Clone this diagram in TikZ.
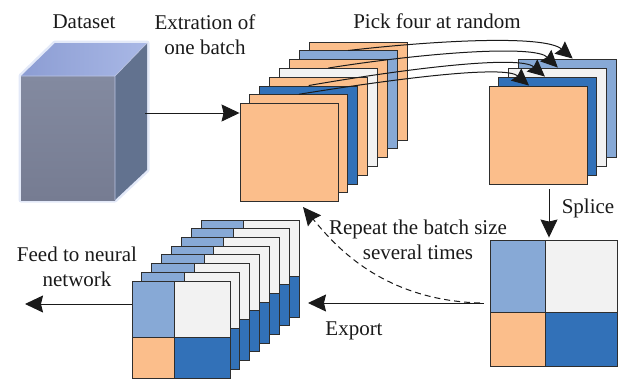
\documentclass[tikz,border=0pt]{standalone}
\usepackage{fontspec}
\setmainfont{Liberation Serif}
\usetikzlibrary{arrows.meta,calc}
\definecolor{cOr}{HTML}{FBBE8B}
\definecolor{cLB}{HTML}{87A9D6}
\definecolor{cDB}{HTML}{3271B8}
\definecolor{cWh}{HTML}{F2F2F2}
\definecolor{cEdge}{HTML}{2E2E2E}
\definecolor{cLine}{HTML}{1A1A1A}
\definecolor{cubeFrontTop}{HTML}{838AA0}
\definecolor{cubeFrontBot}{HTML}{767C92}
\definecolor{cubeTopA}{HTML}{8C9DD3}
\definecolor{cubeTopB}{HTML}{A9B8E6}
\definecolor{cubeSide}{HTML}{62728F}
\definecolor{cubeEdge}{HTML}{BCC5E4}
\definecolor{cubeGlow}{HTML}{C7D3F2}
\begin{document}
\begin{tikzpicture}[x=1pt,y=-1pt,
  font=\fontsize{21}{25}\selectfont,
  sq/.style={draw=cEdge, line width=0.9pt, inner sep=0pt,
    minimum width=98pt, minimum height=98pt},
  quad/.style={draw=cEdge, line width=0.9pt, inner sep=0pt,
    minimum width=98pt, minimum height=97pt,
    path picture={
      \path (path picture bounding box.north west) coordinate (pNW)
            (path picture bounding box.south east) coordinate (pSE);
      \coordinate (pX) at ($(pNW)!0.433!(pSE)$);
      \coordinate (pY) at ($(pNW)!0.577!(pSE)$);
      \fill[cLB] (pNW) rectangle (pX |- pY);
      \fill[cWh] (pX |- pNW) rectangle (pSE |- pY);
      \fill[cOr] (pNW |- pY) rectangle (pX |- pSE);
      \fill[cDB] (pX |- pY) rectangle (pSE);
      \draw[cEdge, line width=0.9pt] (pX |- pNW) -- (pX |- pSE)
                                      (pNW |- pY) -- (pSE |- pY);
    }},
  arr/.style={draw=cLine, line width=1pt,
    -{Stealth[length=18pt,width=17pt,inset=2pt]}},
  arrc/.style={draw=cLine, line width=1pt,
    -{Stealth[length=17pt,width=16pt,inset=2pt]}},
  lbl/.style={inner sep=0pt, align=center, text=cLine}]

\useasboundingbox (0,0) rectangle (625,380);

% ---------- dataset cube ----------
\draw[cubeGlow, line width=5pt, line join=round, opacity=0.5]
  (21,76) -- (55,43) -- (147,43) -- (147,170) -- (115,200) -- (21,200) -- cycle;
\shade[top color=cubeFrontTop, bottom color=cubeFrontBot] (21,76) rectangle (115,200);
\shade[left color=cubeTopA, right color=cubeTopB]
  (21,76) -- (55,43) -- (147,43) -- (115,76) -- cycle;
\fill[cubeSide] (115,76) -- (147,43) -- (147,170) -- (115,200) -- cycle;
\draw[cubeEdge, line width=0.7pt, line join=round]
  (21,76) -- (115,76) -- (115,200) (115,76) -- (147,43);
\coordinate (cubeR) at (145,113);

% ---------- batch stack ----------
\foreach \k/\c in {7/cOr,6/cLB,5/cOr,4/cWh,3/cOr,2/cDB,1/cOr,0/cOr}
  \node[sq, fill=\c] (a\k) at ({289+9.86*\k},{152.5-8.76*\k}) {};

% ---------- four picked ----------
\foreach \k/\c in {3/cLB,2/cWh,1/cDB,0/cOr}
  \node[sq, fill=\c] (r\k) at ({538+9.9*\k},{135-9*\k}) {};

% ---------- spliced image ----------
\node[quad, minimum width=127pt, minimum height=126pt] (sp) at (553.5,303) {};

% ---------- repeated batch ----------
\foreach \k in {7,6,...,0}
  \node[quad] (b\k) at ({181+9.86*\k},{329.5-8.7*\k}) {};

% ---------- connectors ----------
\draw[arr] (cubeR) -- (cubeR -| a0.west);

\draw[arrc] (a6.north) .. controls (440,40) and (545,35) .. ([xshift=5pt]r3.north);
\draw[arrc] (a4.north) .. controls (430,52) and (535,45) .. (r2.north);
\draw[arrc] (a2.north) .. controls (410,68) and (520,55) .. ([xshift=-3pt]r1.north);
\draw[arrc] (a1.north) .. controls (400,78) and (505,65) .. ([xshift=-9pt]r0.north);

\coordinate (spS) at (549,189);
\draw[arr] (spS) -- ([yshift=2pt]spS |- sp.north);

\coordinate (expEnd) at (308,303);
\coordinate (dashStart) at (480,303);
\coordinate (dashEnd) at (303,207);
\draw[arr] ([xshift=-6pt]sp.west) -- (expEnd);
\draw[arr, dash pattern=on 6pt off 4pt] (dashStart) .. controls (380,300) and (333,243) .. (dashEnd);

\coordinate (feedEnd) at (25,304);
\draw[arr] (b0.west |- feedEnd) -- (feedEnd);

% ---------- labels ----------
\node[lbl] (tDataset) at (84,22) {Dataset};
\node[lbl] (tExtr) at (205,34.5) {Extration of\\one batch};
\node[lbl] (tPick) at (437,21) {Pick four at random};
\node[lbl] (tSplice) at (588,208) {Splice};
\node[lbl] (tRepeat) at (418,240) {Repeat the batch size\\several times};
\node[lbl] (tExport) at (354,331) {Export};
\node[lbl] (tFeed) at (77,267) {Feed to neural\\network};
\end{tikzpicture}
\end{document}
